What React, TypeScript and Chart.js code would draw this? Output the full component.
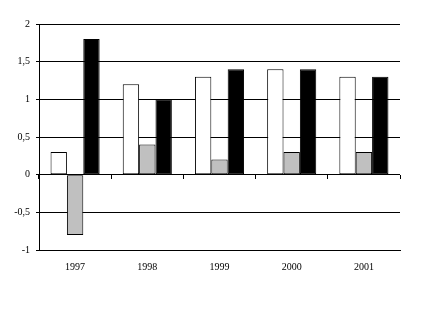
import React, { useEffect, useRef } from "react";
import { Chart, registerables } from "chart.js";

Chart.register(...registerables);

const categories = ["1997", "1998", "1999", "2000", "2001"];
const seriesWhite = [0.3, 1.2, 1.3, 1.4, 1.3];
const seriesGray = [-0.8, 0.4, 0.2, 0.3, 0.3];
const seriesBlack = [1.8, 1.0, 1.4, 1.4, 1.3];
const yTicks = [-1, -0.5, 0, 0.5, 1, 1.5, 2];

const font = { family: "'Liberation Serif', 'Times New Roman', serif", size: 10 };

export default function App() {
  const ref = useRef<HTMLCanvasElement | null>(null);
  useEffect(() => {
    if (!ref.current) return;
    const ds = (data: number[], bg: string) => ({
      data,
      backgroundColor: bg,
      borderColor: "#000000",
      borderWidth: 1,
      borderSkipped: false as const,
      inflateAmount: 0,
      categoryPercentage: 0.68,
      barPercentage: 1,
      xAxisID: "x",
    });
    const chart = new Chart(ref.current, {
      type: "bar",
      data: {
        labels: categories,
        datasets: [ds(seriesWhite, "#ffffff"), ds(seriesGray, "#c0c0c0"), ds(seriesBlack, "#000000")],
      },
      options: {
        animation: false,
        responsive: false,
        maintainAspectRatio: false,
        layout: { padding: { left: 0, top: 24, right: 27, bottom: 0 } },
        plugins: { legend: { display: false }, tooltip: { enabled: false } },
        scales: {
          x: {
            position: "bottom",
            grid: { display: false, drawTicks: false },
            border: { display: true, color: "#000000" },
            ticks: { color: "#000000", font, padding: 11, maxRotation: 0 },
            afterFit: (s: any) => {
              s.height = 66;
            },
          },
          x2: {
            position: { y: 0 } as any,
            labels: categories,
            grid: { display: true, offset: true, drawOnChartArea: false, drawTicks: true, tickLength: 4, color: "#000000" },
            border: { display: false },
            ticks: { display: false },
          },
          y: {
            min: -1,
            max: 2,
            afterBuildTicks: (s: any) => {
              s.ticks = yTicks.map((v) => ({ value: v }));
            },
            grid: { color: "#000000", tickLength: 3, drawTicks: true },
            border: { display: true, color: "#000000" },
            ticks: {
              color: "#000000",
              font,
              padding: 6,
              callback: (v: any) => String(v).replace(".", ","),
            },
            afterFit: (s: any) => {
              s.width = 39;
            },
          },
        },
      },
    });
    return () => chart.destroy();
  }, []);
  return (
    <div style={{ position: "fixed", left: 0, top: 0, width: 427, height: 316, background: "#fff" }}>
      <canvas ref={ref} width={427} height={316} />
    </div>
  );
}
